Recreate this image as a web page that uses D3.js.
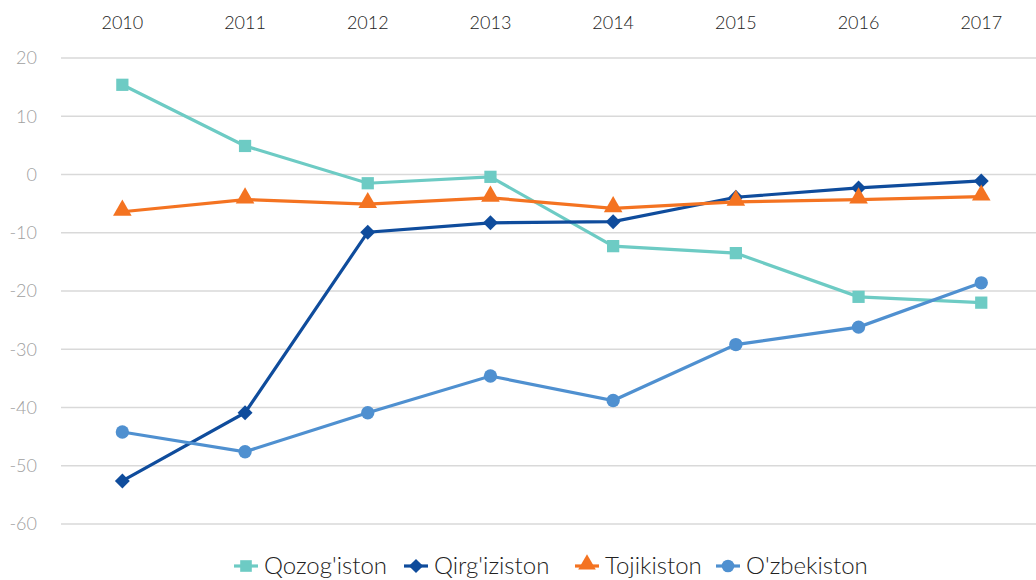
<!DOCTYPE html>
<html>
<head>
<meta charset="utf-8">
<script src="https://cdn.jsdelivr.net/npm/d3@7"></script>
<style>
  body { margin: 0; background: #fff; }
  text { font-family: Lato, "Open Sans", sans-serif; font-weight: 300; }
</style>
</head>
<body>
<svg id="chart" width="1036" height="580"></svg>
<script>
var years = ["2010", "2011", "2012", "2013", "2014", "2015", "2016", "2017"];
var yTicks = [20, 10, 0, -10, -20, -30, -40, -50, -60];

var qozogiston = [15.4, 4.9, -1.5, -0.4, -12.3, -13.5, -21.0, -22.0];
var qirgiziston = [-52.6, -40.9, -9.9, -8.3, -8.1, -3.9, -2.3, -1.1];
var tojikiston = [-6.4, -4.3, -5.1, -4.0, -5.8, -4.7, -4.3, -3.8];
var ozbekiston = [-44.2, -47.6, -40.9, -34.6, -38.8, -29.2, -26.2, -18.6];

var series = [
  { name: "Qozog'iston", values: qozogiston, color: "#6dcbc4", symbol: d3.symbolSquare, size: 150, rot: 0 },
  { name: "Qirg'iziston", values: qirgiziston, color: "#0f4c9c", symbol: d3.symbolSquare, size: 112, rot: 45 },
  { name: "Tojikiston", values: tojikiston, color: "#f47321", symbol: d3.symbolTriangle, size: 150, rot: 0 },
  { name: "O'zbekiston", values: ozbekiston, color: "#4f90d0", symbol: d3.symbolCircle, size: 140, rot: 0 }
];

var svg = d3.select("#chart");

var x = d3.scaleBand().domain(years).range([61, 1042.6]);
var y = d3.scaleLinear().domain([-60, 20]).range([524, 58]);

// gridlines
svg.append("g")
  .selectAll("line")
  .data(yTicks)
  .enter()
  .append("line")
  .attr("x1", 61)
  .attr("x2", 1036)
  .attr("y1", function(d) { return y(d); })
  .attr("y2", function(d) { return y(d); })
  .attr("stroke", "#d9d9d9")
  .attr("stroke-width", 1.3);

// y axis labels
var yAxis = svg.append("g")
  .attr("transform", "translate(37,0)")
  .call(d3.axisLeft(y).tickValues(yTicks).tickSize(0).tickPadding(0).tickFormat(String));
yAxis.select(".domain").remove();
yAxis.selectAll("text")
  .attr("fill", "#a0a0a0")
  .attr("font-size", 18)
  .style("font-family", "Lato, sans-serif")
  .style("font-weight", 300);

// x axis labels on top
var xAxis = svg.append("g")
  .attr("transform", "translate(0,30)")
  .call(d3.axisTop(x).tickSize(0).tickPadding(0));
xAxis.select(".domain").remove();
xAxis.selectAll("text")
  .attr("fill", "#222")
  .attr("font-size", 18)
  .attr("dy", "-0.05em")
  .style("font-family", "Lato, sans-serif")
  .style("font-weight", 300);

var cx = function(i) { return x(years[i]) + x.bandwidth() / 2; };

var line = d3.line()
  .x(function(d, i) { return cx(i); })
  .y(function(d) { return y(d); });

series.forEach(function(s) {
  var g = svg.append("g");
  g.append("path")
    .datum(s.values)
    .attr("d", line)
    .attr("fill", "none")
    .attr("stroke", s.color)
    .attr("stroke-width", 3.2);
  g.selectAll("path.mark")
    .data(s.values)
    .enter()
    .append("path")
    .attr("class", "mark")
    .attr("d", d3.symbol().type(s.symbol).size(s.size))
    .attr("transform", function(d, i) {
      var dy = s.symbol === d3.symbolTriangle ? -1.5 : 0;
      return "translate(" + cx(i) + "," + (y(d) + dy) + ") rotate(" + s.rot + ")";
    })
    .attr("fill", s.color);
});

// legend
var legendX = [234, 404, 575, 716];
var legend = svg.append("g");
series.forEach(function(s, i) {
  var lg = legend.append("g").attr("transform", "translate(" + legendX[i] + ",566)");
  lg.append("line")
    .attr("x1", 0).attr("x2", 24)
    .attr("stroke", s.color).attr("stroke-width", 3.2);
  lg.append("path")
    .attr("d", d3.symbol().type(s.symbol).size(s.size * 0.9))
    .attr("transform", "translate(12," + (s.symbol === d3.symbolTriangle ? -1.5 : 0) + ") rotate(" + s.rot + ")")
    .attr("fill", s.color);
  lg.append("text")
    .attr("x", 30)
    .attr("y", 8)
    .attr("font-size", 24)
    .attr("fill", "#222")
    .text(s.name);
});
</script>
</body>
</html>
